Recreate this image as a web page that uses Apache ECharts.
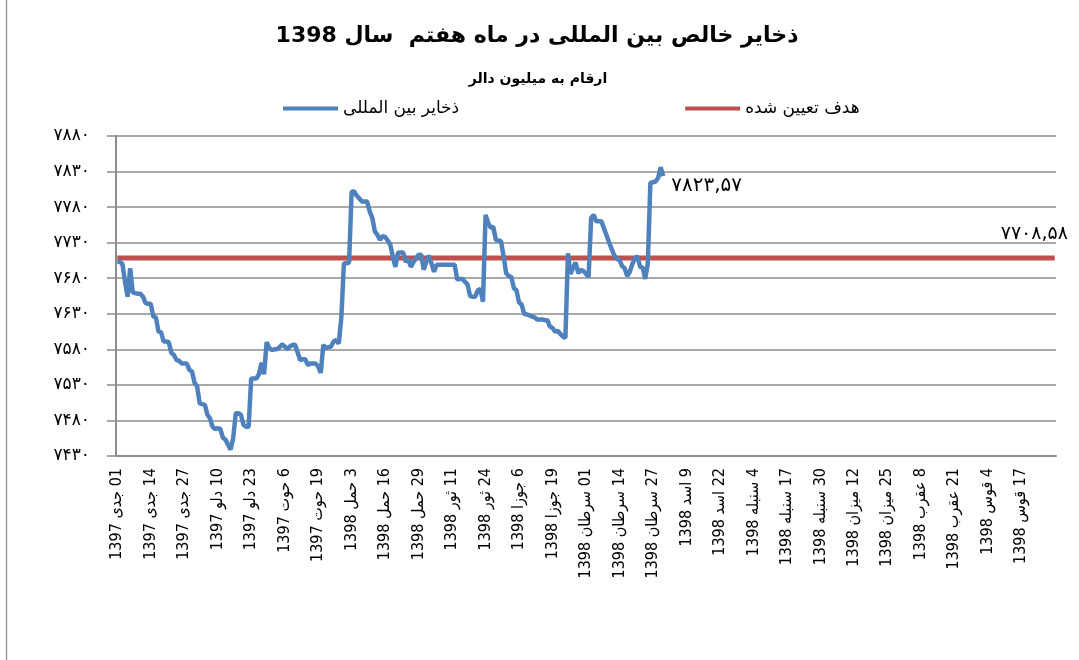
<!DOCTYPE html>
<html>
<head>
<meta charset="utf-8">
<title>ذخایر خالص بین المللی</title>
<script src="https://cdn.jsdelivr.net/npm/echarts@6/dist/echarts.min.js"></script>
<style>
  html, body { margin: 0; padding: 0; background: #fff; }
  #main { width: 1079px; height: 660px; }
</style>
</head>
<body>
<div id="main"></div>
<script>
  // برچسب های محور افقی (هر ۱۳ روز یکی)
  const xLabels = ['01 جدی 1397', '14 جدی 1397', '27 جدی 1397', '10 دلو 1397', '23 دلو 1397',
    '6 حوت 1397', '19 حوت 1397', '3 حمل 1398', '16 حمل 1398', '29 حمل 1398', '11 ثور 1398',
    '24 ثور 1398', '6 جوزا 1398', '19 جوزا 1398', '01 سرطان 1398', '14 سرطان 1398',
    '27 سرطان 1398', '9 اسد 1398', '22 اسد 1398', '4 سنبله 1398', '17 سنبله 1398',
    '30 سنبله 1398', '12 میزان 1398', '25 میزان 1398', '8 عقرب 1398', '21 عقرب 1398',
    '4 قوس 1398', '17 قوس 1398'];
  const dayCount = 365;
  const labelStep = 13;

  const yTicks = [7430, 7480, 7530, 7580, 7630, 7680, 7730, 7780, 7830, 7880];

  // ذخایر بین المللی (روزانه)
  const reserves = [
    7703, 7703, 7700, 7675, 7654, 7694, 7660, 7659, 7658, 7658,
    7654, 7645, 7644, 7644, 7626, 7625, 7605, 7604, 7591, 7591,
    7590, 7575, 7572, 7565, 7564, 7560, 7560, 7560, 7551, 7549,
    7533, 7528, 7504, 7503, 7502, 7488, 7483, 7471, 7468, 7469,
    7468, 7456, 7453, 7446, 7439, 7455, 7490, 7490, 7488, 7474,
    7471, 7471, 7539, 7539, 7539, 7545, 7561, 7545, 7590, 7582,
    7579, 7580, 7580, 7583, 7587, 7584, 7580, 7584, 7586, 7587,
    7576, 7565, 7566, 7566, 7558, 7560, 7560, 7560, 7556, 7547,
    7586, 7582, 7583, 7584, 7591, 7593, 7588, 7625, 7701, 7701,
    7702, 7802, 7802, 7796, 7792, 7788, 7788, 7788, 7774, 7765,
    7746, 7741, 7734, 7739, 7738, 7733, 7727, 7710, 7696, 7716,
    7716, 7716, 7703, 7707, 7696, 7703, 7708, 7713, 7713, 7692,
    7703, 7712, 7701, 7689, 7699, 7699, 7699, 7699, 7699, 7699,
    7699, 7699, 7678, 7679, 7679, 7675, 7671, 7655, 7654, 7654,
    7663, 7665, 7647, 7769, 7758, 7751, 7752, 7734, 7733, 7732,
    7711, 7687, 7683, 7682, 7666, 7663, 7646, 7643, 7630, 7629,
    7628, 7626, 7625, 7622, 7622, 7622, 7621, 7621, 7612, 7610,
    7605, 7606, 7602, 7598, 7596, 7715, 7686, 7695, 7702, 7687,
    7692, 7690, 7686, 7682, 7765, 7769, 7760, 7760, 7760, 7750,
    7740, 7730, 7721, 7712, 7707, 7706, 7697, 7694, 7683, 7689,
    7700, 7708, 7711, 7696, 7695, 7679, 7701, 7814, 7815, 7816,
    7821, 7836, 7823.57
  ];
  const targetValue = 7708.58;

  const faDigits = '۰۱۲۳۴۵۶۷۸۹';
  function toFa(v) {
    return String(v).replace(/\d/g, d => faDigits[d]).replace('.', ',');
  }

  const categories = [];
  for (let i = 0; i < dayCount; i++) {
    categories.push(i % labelStep === 0 ? (xLabels[i / labelStep] || '') : '');
  }

  const gridColor = '#8c8c8c';
  const arFont = '"DejaVu Sans", "Noto Sans", sans-serif';

  const myChart = echarts.init(document.getElementById('main'));
  myChart.setOption({
    backgroundColor: '#fff',
    animation: false,
    title: [{
      text: 'ذخایر خالص بین المللی در ماه هفتم  سال 1398',
      left: 532,
      top: 20,
      textAlign: 'center',
      textStyle: { fontSize: 22, fontWeight: 'bold', color: '#000', fontFamily: arFont }
    }, {
      text: 'ارقام به میلیون دالر',
      left: 533,
      top: 67,
      textAlign: 'center',
      textStyle: { fontSize: 14, fontWeight: 'bold', color: '#000', fontFamily: arFont }
    }],
    legend: {
      left: 283,
      top: 100,
      padding: 0,
      itemGap: 226,
      itemWidth: 55,
      itemHeight: 4,
      icon: 'rect',
      textStyle: { fontSize: 17, color: '#000', fontFamily: arFont },
      data: ['ذخایر بین المللی', 'هدف تعیین شده']
    },
    graphic: [{
      type: 'line',
      shape: { x1: 6.5, y1: 0, x2: 6.5, y2: 660 },
      style: { stroke: '#9a9a9a', lineWidth: 1.5 }
    }],
    grid: { left: 116, right: 23, top: 136, bottom: 204, containLabel: false },
    xAxis: {
      type: 'category',
      data: categories,
      boundaryGap: true,
      axisLine: { lineStyle: { color: gridColor, width: 2 } },
      axisTick: { interval: 0, length: 6, lineStyle: { color: gridColor, width: 1 } },
      axisLabel: {
        interval: 0,
        rotate: 90,
        margin: 12,
        fontSize: 16,
        color: '#000',
        fontFamily: '"Liberation Sans Narrow", "DejaVu Sans Condensed", sans-serif',
        formatter: v => v ? '\u202B' + v + '\u202C' : ''
      },
      splitLine: { show: false }
    },
    yAxis: {
      type: 'value',
      min: 7430,
      max: 7880,
      axisLine: { show: true, lineStyle: { color: gridColor, width: 2 } },
      axisTick: { show: true, length: 9, customValues: yTicks, lineStyle: { color: gridColor, width: 1.5 } },
      axisLabel: {
        customValues: yTicks,
        margin: 26,
        fontSize: 17,
        color: '#000',
        fontFamily: arFont,
        formatter: v => toFa(v)
      },
      splitLine: { show: true, lineStyle: { color: gridColor, width: 1.5 } }
    },
    series: [{
      name: 'ذخایر بین المللی',
      type: 'line',
      data: reserves,
      showSymbol: false,
      symbol: 'none',
      color: '#4f81bd',
      lineStyle: { color: '#4f81bd', width: 4.5 },
      label: { show: false },
      endLabel: {
        show: true,
        formatter: p => toFa(p.value),
        fontSize: 20,
        color: '#000',
        fontFamily: arFont,
        offset: [0, 10]
      },
      z: 3
    }, {
      name: 'هدف تعیین شده',
      type: 'line',
      data: [[0, targetValue], [dayCount - 1, targetValue]],
      showSymbol: false,
      symbol: 'none',
      color: '#c0504d',
      lineStyle: { color: '#c0504d', width: 5 },
      endLabel: {
        show: true,
        formatter: p => toFa(p.value[1]),
        fontSize: 19,
        color: '#000',
        fontFamily: arFont,
        offset: [-62, -24]
      },
      z: 2
    }]
  });
  window.addEventListener('resize', () => {
    myChart.resize();
  });
</script>
</body>
</html>
